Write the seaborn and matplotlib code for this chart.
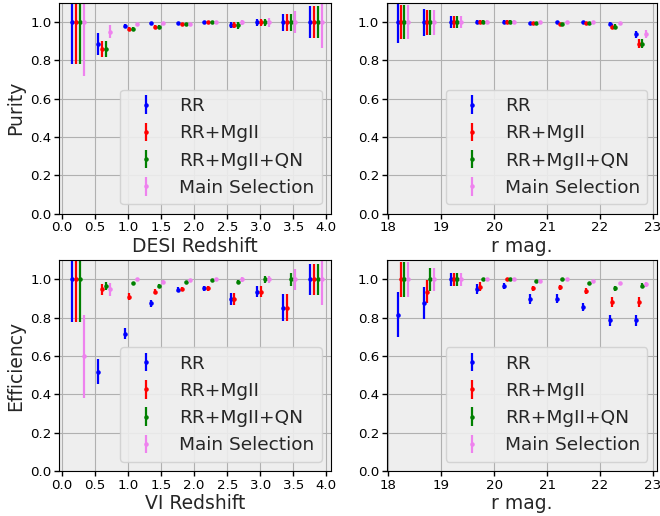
import numpy as np
import pandas as pd
import matplotlib
matplotlib.use("Agg")
import matplotlib.pyplot as plt
import seaborn as sns

# ---------------- data ----------------
series_names = ["RR", "RR+MgII", "RR+MgII+QN", "Main Selection"]
series_colors = ["blue", "red", "green", "violet"]

z_bins = [0.15, 0.55, 0.95, 1.35, 1.75, 2.15, 2.55, 2.95, 3.35, 3.75]
z_offsets = [0.0, 0.06, 0.12, 0.18]
r_bins = [18.18, 18.68, 19.18, 19.68, 20.18, 20.68, 21.18, 21.68, 22.18, 22.68]
r_offsets = [0.0, 0.055, 0.11, 0.19]

# Purity vs DESI redshift
pur_z_rr = [1.0, 0.884, 0.981, 0.995, 0.998, 1.0, 0.984, 1.0, 1.0, 1.0]
pur_z_rr_err = [0.22, 0.057, 0.011, 0.006, 0.005, 0.004, 0.016, 0.018, 0.044, 0.082]
pur_z_mg = [1.0, 0.86, 0.965, 0.977, 0.991, 1.0, 0.984, 1.0, 1.0, 1.0]
pur_z_mg_err = [0.22, 0.044, 0.012, 0.007, 0.005, 0.004, 0.016, 0.018, 0.044, 0.082]
pur_z_qn = [1.0, 0.86, 0.965, 0.977, 0.991, 1.0, 0.984, 1.0, 1.0, 1.0]
pur_z_qn_err = [0.22, 0.044, 0.012, 0.007, 0.005, 0.004, 0.018, 0.018, 0.044, 0.082]
pur_z_ms = [1.0, 0.951, 0.988, 0.995, 0.991, 1.0, 1.0, 1.0, 1.0, 1.0]
pur_z_ms_err = [0.28, 0.035, 0.009, 0.006, 0.005, 0.004, 0.013, 0.023, 0.058, 0.133]

# Purity vs r mag
pur_r_rr = [1.0, 1.0, 1.0, 1.0, 1.0, 0.995, 1.0, 1.0, 0.991, 0.937]
pur_r_rr_err = [0.107, 0.07, 0.032, 0.01, 0.01, 0.008, 0.007, 0.006, 0.01, 0.018]
pur_r_mg = [1.0, 1.0, 1.0, 1.0, 1.0, 0.995, 0.991, 0.996, 0.977, 0.888]
pur_r_mg_err = [0.088, 0.065, 0.032, 0.01, 0.01, 0.008, 0.007, 0.006, 0.012, 0.023]
pur_r_qn = [1.0, 1.0, 1.0, 1.0, 1.0, 0.995, 0.991, 0.996, 0.977, 0.888]
pur_r_qn_err = [0.088, 0.065, 0.032, 0.01, 0.01, 0.008, 0.007, 0.006, 0.012, 0.023]
pur_r_ms = [1.0, 1.0, 1.0, 1.0, 1.0, 1.0, 1.0, 1.0, 0.995, 0.937]
pur_r_ms_err = [0.088, 0.065, 0.032, 0.01, 0.01, 0.008, 0.007, 0.006, 0.008, 0.02]

# Efficiency vs VI redshift
eff_z_rr = [1.0, 0.519, 0.716, 0.876, 0.947, 0.953, 0.898, 0.936, 0.853, 1.0]
eff_z_rr_err = [0.22, 0.067, 0.029, 0.018, 0.013, 0.012, 0.031, 0.03, 0.069, 0.08]
eff_z_mg = [1.0, 0.948, 0.91, 0.936, 0.95, 0.953, 0.898, 0.936, 0.853, 1.0]
eff_z_mg_err = [0.22, 0.029, 0.019, 0.013, 0.012, 0.012, 0.031, 0.03, 0.069, 0.08]
eff_z_qn = [1.0, 0.966, 0.981, 0.966, 0.988, 0.995, 0.988, 1.0, 1.0, 1.0]
eff_z_qn_err = [0.22, 0.022, 0.007, 0.01, 0.006, 0.004, 0.007, 0.018, 0.036, 0.08]
eff_z_ms = [0.6, 0.948, 1.0, 0.988, 0.997, 1.0, 1.0, 1.0, 1.0, 1.0]
eff_z_ms_err = [0.217, 0.036, 0.006, 0.008, 0.005, 0.004, 0.012, 0.019, 0.056, 0.133]

# Efficiency vs r mag
eff_r_rr = [0.817, 0.877, 1.0, 0.95, 0.966, 0.899, 0.899, 0.856, 0.786, 0.786]
eff_r_rr_err = [0.115, 0.083, 0.032, 0.025, 0.017, 0.026, 0.024, 0.021, 0.028, 0.028]
eff_r_mg = [1.0, 0.937, 1.0, 0.962, 1.0, 0.954, 0.959, 0.94, 0.884, 0.884]
eff_r_mg_err = [0.09, 0.06, 0.032, 0.024, 0.008, 0.014, 0.013, 0.014, 0.026, 0.026]
eff_r_qn = [1.0, 1.0, 1.0, 1.0, 1.0, 0.993, 1.0, 0.981, 0.954, 0.968]
eff_r_qn_err = [0.09, 0.058, 0.032, 0.008, 0.008, 0.006, 0.006, 0.008, 0.014, 0.014]
eff_r_ms = [1.0, 1.0, 1.0, 1.0, 1.0, 0.993, 1.0, 0.993, 0.981, 0.976]
eff_r_ms_err = [0.09, 0.058, 0.032, 0.008, 0.008, 0.006, 0.006, 0.006, 0.008, 0.013]

z_ticks = [0.0, 0.5, 1.0, 1.5, 2.0, 2.5, 3.0, 3.5, 4.0]
r_ticks = [18, 19, 20, 21, 22, 23]
y_ticks = [0.0, 0.2, 0.4, 0.6, 0.8, 1.0]

# ---------------- style ----------------
sns.set_style("darkgrid", rc={
    "axes.facecolor": "#eeeeee",
    "axes.edgecolor": "black",
    "grid.color": "#b0b0b0",
    "grid.linewidth": 0.9,
    "xtick.bottom": True,
    "ytick.left": True,
    "xtick.color": "black",
    "ytick.color": "black",
    "axes.linewidth": 1.0,
})
plt.rcParams["font.family"] = ["DejaVu Sans"]

fig = plt.figure(figsize=(6.6, 5.16), dpi=100)
W, H = 660, 516
def add_ax(x0, x1, y0, y1):
    return fig.add_axes([x0 / W, 1 - y1 / H, (x1 - x0) / W, (y1 - y0) / H])

ax_tl = add_ax(59.3, 331, 3, 213.5)
ax_tr = add_ax(386.7, 656.7, 3, 213.5)
ax_bl = add_ax(59.3, 331, 260.3, 471)
ax_br = add_ax(386.7, 656.7, 260.3, 471)

panels = [
    (ax_tl, z_bins, z_offsets,
     [(pur_z_rr, pur_z_rr_err), (pur_z_mg, pur_z_mg_err), (pur_z_qn, pur_z_qn_err), (pur_z_ms, pur_z_ms_err)],
     "DESI Redshift", "Purity", z_ticks, (-0.04, 4.07)),
    (ax_tr, r_bins, r_offsets,
     [(pur_r_rr, pur_r_rr_err), (pur_r_mg, pur_r_mg_err), (pur_r_qn, pur_r_qn_err), (pur_r_ms, pur_r_ms_err)],
     "r mag.", None, r_ticks, (17.97, 23.07)),
    (ax_bl, z_bins, z_offsets,
     [(eff_z_rr, eff_z_rr_err), (eff_z_mg, eff_z_mg_err), (eff_z_qn, eff_z_qn_err), (eff_z_ms, eff_z_ms_err)],
     "VI Redshift", "Efficiency", z_ticks, (-0.04, 4.07)),
    (ax_br, r_bins, r_offsets,
     [(eff_r_rr, eff_r_rr_err), (eff_r_mg, eff_r_mg_err), (eff_r_qn, eff_r_qn_err), (eff_r_ms, eff_r_ms_err)],
     "r mag.", None, r_ticks, (17.97, 23.07)),
]

for ax, bins, offs, series, xlabel, ylabel, xticks, xlim in panels:
    for (vals, errs), name, col, off in zip(series, series_names, series_colors, offs):
        df = pd.DataFrame({"x": np.asarray(bins) + off, "y": vals, "err": errs})
        ax.errorbar(df["x"], df["y"], yerr=df["err"], fmt=".", color=col,
                    ecolor=col, elinewidth=1.6, markersize=4.5, label=name)
    ax.set_xlim(*xlim)
    ax.set_ylim(0, 1.1)
    ax.set_xticks(xticks)
    ax.set_yticks(y_ticks)
    ax.set_yticklabels([f"{t:.1f}" for t in y_ticks])
    if xticks is z_ticks:
        ax.set_xticklabels([f"{t:.1f}" for t in xticks])
    ax.tick_params(axis="both", labelsize=9.6, length=3.5, width=1, direction="out", pad=2)
    ax.set_xlabel(xlabel, fontsize=13.5, labelpad=2)
    if ylabel:
        ax.set_ylabel(ylabel, fontsize=13.5, labelpad=4)
    for s in ax.spines.values():
        s.set_visible(True)
        s.set_color("black")
    leg = ax.legend(loc="lower right", fontsize=13.3, frameon=True, fancybox=True,
                    facecolor="#eeeeee", edgecolor="#d0d0d0", framealpha=0.9)

fig.savefig("out.png", dpi=100)
